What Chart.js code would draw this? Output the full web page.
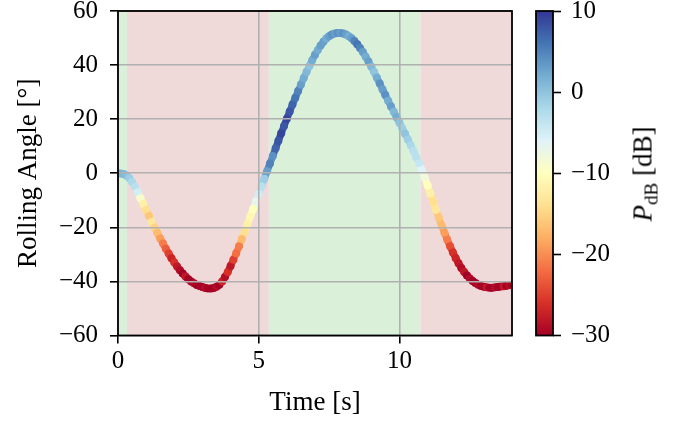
<!DOCTYPE html>
<html>
<head>
<meta charset="utf-8">
<script src="https://cdn.jsdelivr.net/npm/chart.js@4/dist/chart.umd.min.js"></script>
<style>
  html, body { margin: 0; padding: 0; background: #fff; }
  #wrap { position: relative; width: 684px; height: 424px; }
  #wrap canvas { position: absolute; left: 0; top: 0; }
  #cbarLabel {
    position: absolute; left: 645px; top: 174px;
    transform: translate(-50%, -50%) rotate(-90deg);
    font-family: "Liberation Serif", serif; font-size: 27px; color: #000;
    white-space: nowrap;
  }
  #cbarLabel sub { font-size: 19px; vertical-align: -6px; }
</style>
</head>
<body>
<div id="wrap">
  <canvas id="chart" width="684" height="424"></canvas>
  <canvas id="cbar" width="684" height="424"></canvas>
  <div id="cbarLabel"><i>P</i><sub>dB</sub> [dB]</div>
</div>
<script>
// time [s]
const times = [
  0.0, 0.1, 0.2, 0.3, 0.4, 0.5, 0.6, 0.7, 0.8, 0.9,
  1.0, 1.1, 1.2, 1.3, 1.4, 1.5, 1.6, 1.7, 1.8, 1.9,
  2.0, 2.1, 2.2, 2.3, 2.4, 2.5, 2.6, 2.7, 2.8, 2.9,
  3.0, 3.1, 3.2, 3.3, 3.4, 3.5, 3.6, 3.7, 3.8, 3.9,
  4.0, 4.1, 4.2, 4.3, 4.4, 4.5, 4.6, 4.7, 4.8, 4.9,
  5.0, 5.1, 5.2, 5.3, 5.4, 5.5, 5.6, 5.7, 5.8, 5.9,
  6.0, 6.1, 6.2, 6.3, 6.4, 6.5, 6.6, 6.7, 6.8, 6.9,
  7.0, 7.1, 7.2, 7.3, 7.4, 7.5, 7.6, 7.7, 7.8, 7.9,
  8.0, 8.1, 8.2, 8.3, 8.4, 8.5, 8.6, 8.7, 8.8, 8.9,
  9.0, 9.1, 9.2, 9.3, 9.4, 9.5, 9.6, 9.7, 9.8, 9.9,
  10.0, 10.1, 10.2, 10.3, 10.4, 10.5, 10.6, 10.7, 10.8, 10.9,
  11.0, 11.1, 11.2, 11.3, 11.4, 11.5, 11.6, 11.7, 11.8, 11.9,
  12.0, 12.1, 12.2, 12.3, 12.4, 12.5, 12.6, 12.7, 12.8, 12.9,
  13.0, 13.1, 13.2, 13.3, 13.4, 13.5, 13.6, 13.7, 13.8, 13.9,
  14.0
];
// rolling angle [deg]
const rollAngle = [
  0.0, -0.1, -0.3, -0.8, -1.8, -3.2, -5.0, -7.0, -9.2, -11.4,
  -13.6, -15.8, -18.0, -20.1, -22.1, -24.1, -26.0, -27.9, -29.7, -31.4,
  -33.0, -34.5, -35.9, -37.1, -38.2, -39.2, -40.0, -40.7, -41.3, -41.7,
  -42.1, -42.4, -42.6, -42.6, -42.4, -42.0, -41.2, -40.0, -38.4, -36.5,
  -34.3, -32.0, -29.6, -27.0, -24.3, -21.6, -18.8, -16.0, -13.2, -10.4,
  -7.6, -4.8, -2.0, 0.8, 3.6, 6.4, 9.2, 12.0, 14.8, 17.5,
  20.2, 22.8, 25.4, 27.9, 30.4, 32.8, 35.2, 37.5, 39.7, 41.8,
  43.8, 45.6, 47.2, 48.6, 49.8, 50.7, 51.3, 51.7, 51.9, 51.9,
  51.7, 51.3, 50.7, 49.9, 48.9, 47.7, 46.3, 44.8, 43.1, 41.3,
  39.4, 37.4, 35.3, 33.2, 31.0, 28.9, 26.8, 24.7, 22.7, 20.7,
  18.7, 16.6, 14.6, 12.5, 10.4, 8.2, 5.9, 3.6, 1.1, -1.6,
  -4.5, -7.5, -10.6, -13.6, -16.5, -19.3, -22.0, -24.6, -27.0, -29.3,
  -31.4, -33.3, -35.0, -36.5, -37.8, -38.9, -39.8, -40.6, -41.2, -41.7,
  -42.0, -42.2, -42.3, -42.3, -42.2, -42.1, -41.9, -41.8, -41.6, -41.4,
  -41.2
];
// received power [dB]
const powerDb = [
  2, 1.5, 1, 0.5, -1, -2, -3, -5, -9, -12,
  -14, -16, -13, -15, -17, -19, -21, -23, -25, -27,
  -26, -28, -29, -30, -28, -30, -30, -29, -30, -30,
  -30, -29, -30, -30, -30, -29, -30, -27, -29, -26,
  -28, -25, -22, -21, -17, -14, -12, -11, -10, -7,
  -5, -3, -1, 3, 5, 4, 7, 8, 9, 8,
  9, 8, 7, 6, 5, 3, 2, 1, 0, 2,
  3, 2, 3, 3, 2, 3, 4, 3, 4, 3,
  4, 3, 2, 3, 5, 6, 5, 3, 2, 3,
  1, 0, 2, 4, 3, 4, 2, 3, 1, 2,
  0, -1, 0, -1, -2, -3, -3, -4, -6, -8,
  -10, -12, -14, -13, -16, -17, -19, -21, -24, -26,
  -27, -28, -29, -28, -30, -29, -30, -30, -29, -30,
  -30, -28, -30, -30, -29, -30, -30, -28, -30, -29,
  -30
];

// shaded time intervals (link state)
const spanStart = [0, 0.32, 5.36, 10.75];
const spanEnd = [0.32, 5.36, 10.75, 14];
const spanState = ['on', 'off', 'on', 'off'];

const xTicks = [0, 5, 10];
const yTicks = [-60, -40, -20, 0, 20, 40, 60];
const cbarTicks = [-30, -20, -10, 0, 10];
const cMin = -30, cMax = 10;

// matplotlib RdYlBu
const rdylbu = [
  [165, 0, 38], [215, 48, 39], [244, 109, 67], [253, 174, 97], [254, 224, 144],
  [255, 255, 191], [224, 243, 248], [171, 217, 233], [116, 173, 209], [69, 117, 180], [49, 54, 149]
];
function cmap(v) {
  let f = (v - cMin) / (cMax - cMin);
  f = Math.max(0, Math.min(1, f)) * (rdylbu.length - 1);
  const i = Math.min(Math.floor(f), rdylbu.length - 2);
  const t = f - i;
  const a = rdylbu[i], b = rdylbu[i + 1];
  const c = a.map((x, k) => Math.round(x + (b[k] - x) * t));
  return `rgb(${c[0]},${c[1]},${c[2]})`;
}

const serif = '"Liberation Serif", "Times New Roman", serif';
const tickFont = { family: serif, size: 25 };
const titleFont = { family: serif, size: 27 };
const minus = v => String(v).replace('-', '\u2212');

// keep the plot box fixed, labels may overhang
const noPad = s => { s.paddingTop = 0; s.paddingBottom = 0; s.paddingLeft = 0; s.paddingRight = 0; };

const spans = {
  id: 'spans',
  beforeDatasetsDraw(chart) {
    const { ctx, chartArea: a, scales: { x } } = chart;
    ctx.save();
    spanStart.forEach((s, i) => {
      const x0 = x.getPixelForValue(s), x1 = x.getPixelForValue(spanEnd[i]);
      ctx.fillStyle = spanState[i] === 'on' ? 'rgb(218,240,217)' : 'rgb(240,217,217)';
      ctx.fillRect(x0, a.top, x1 - x0, a.bottom - a.top);
    });
    ctx.restore();
  }
};

const frame = {
  id: 'frame',
  afterDraw(chart) {
    const { ctx, chartArea: a } = chart;
    ctx.save();
    ctx.strokeStyle = '#000';
    ctx.lineWidth = 1.8;
    ctx.strokeRect(a.left, a.top, a.right - a.left, a.bottom - a.top);
    ctx.restore();
  }
};

const colors = powerDb.map(cmap);

new Chart(document.getElementById('chart'), {
  type: 'scatter',
  data: {
    datasets: [{
      data: times.map((t, i) => ({ x: t, y: rollAngle[i] })),
      showLine: true,
      borderWidth: 7,
      borderCapStyle: 'round',
      borderJoinStyle: 'round',
      segment: { borderColor: c => colors[c.p1DataIndex] },
      pointBackgroundColor: colors,
      pointBorderWidth: 0,
      pointRadius: 4,
      pointHoverRadius: 4
    }]
  },
  options: {
    responsive: false,
    animation: false,
    events: [],
    layout: { padding: { left: 0, right: 172, top: 11, bottom: 0 } },
    plugins: { legend: { display: false }, tooltip: { enabled: false } },
    scales: {
      x: {
        type: 'linear', min: 0, max: 14,
        afterBuildTicks: s => { s.ticks = xTicks.map(v => ({ value: v })); },
        afterFit: s => { s.height = 88.5; noPad(s); },
        ticks: { font: tickFont, color: '#000', padding: 3, maxRotation: 0, callback: minus },
        grid: { z: 1, color: '#b0b0b0', lineWidth: 1.6, tickColor: '#000', tickLength: 8, tickWidth: 1.6 },
        border: { display: false },
        title: { display: true, text: 'Time [s]', font: titleFont, color: '#000', padding: { top: 0, bottom: 5 } }
      },
      y: {
        type: 'linear', min: -60, max: 60,
        afterBuildTicks: s => { s.ticks = yTicks.map(v => ({ value: v })); },
        afterFit: s => { s.width = 118; noPad(s); },
        ticks: { font: tickFont, color: '#000', padding: 12, callback: minus },
        grid: { z: 1, color: '#b0b0b0', lineWidth: 1.6, tickColor: '#000', tickLength: 8, tickWidth: 1.6 },
        border: { display: false },
        title: { display: true, text: 'Rolling Angle [°]', font: titleFont, color: '#000', padding: { top: 13, bottom: 0 } }
      }
    }
  },
  plugins: [spans, frame]
});

const gradientBar = {
  id: 'gradientBar',
  beforeDatasetsDraw(chart) {
    const { ctx, chartArea: a } = chart;
    const g = ctx.createLinearGradient(0, a.bottom, 0, a.top);
    rdylbu.forEach((c, i) => g.addColorStop(i / (rdylbu.length - 1), `rgb(${c[0]},${c[1]},${c[2]})`));
    ctx.save();
    ctx.fillStyle = g;
    ctx.fillRect(a.left, a.top, a.right - a.left, a.bottom - a.top);
    ctx.restore();
  }
};

new Chart(document.getElementById('cbar'), {
  type: 'scatter',
  data: { datasets: [{ data: [] }] },
  options: {
    responsive: false,
    animation: false,
    events: [],
    layout: { padding: { left: 536, right: 51, top: 11, bottom: 88.5 } },
    plugins: { legend: { display: false }, tooltip: { enabled: false } },
    scales: {
      x: { display: false, min: 0, max: 1 },
      y: {
        position: 'right', min: cMin, max: cMax,
        afterBuildTicks: s => { s.ticks = cbarTicks.map(v => ({ value: v })); },
        afterFit: s => { s.width = 80; noPad(s); },
        ticks: { font: tickFont, color: '#000', padding: 10, callback: minus },
        grid: { drawOnChartArea: false, tickColor: '#000', tickLength: 8, tickWidth: 1.6 },
        border: { display: false }
      }
    }
  },
  plugins: [gradientBar, frame]
});
</script>
</body>
</html>
